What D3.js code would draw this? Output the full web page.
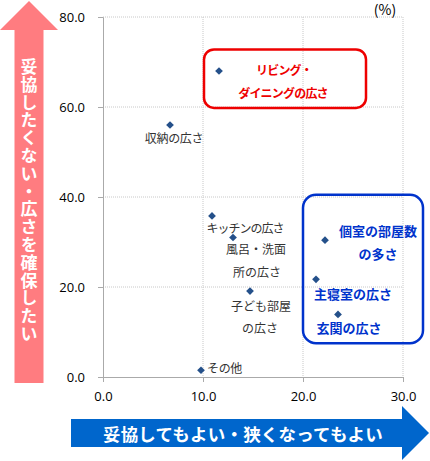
<!DOCTYPE html>
<html>
<head>
<meta charset="utf-8">
<script src="https://cdn.jsdelivr.net/npm/d3@7"></script>
<style>
  body { margin: 0; background: #fff; }
  text { font-family: "Noto Sans CJK JP", "Noto Sans", sans-serif; }
</style>
</head>
<body>
<script>
// items, x = ok to compromise (%), y = don't want to compromise (%)
const items = ["リビング・ダイニングの広さ", "収納の広さ", "キッチンの広さ", "風呂・洗面所の広さ",
               "子ども部屋の広さ", "その他", "個室の部屋数の多さ", "主寝室の広さ", "玄関の広さ"];
const xValues = [11.6, 6.7, 10.9, 13.0, 14.7, 9.8, 22.2, 21.3, 23.5];
const yValues = [68.0, 56.0, 35.8, 31.0, 19.1, 1.5, 30.4, 21.7, 13.9];
const xTicks = [0, 10, 20, 30];
const yTicks = [0, 20, 40, 60, 80];

const W = 430, H = 461;
const margin = {left: 103, right: 27, top: 17, bottom: 84};
const width = W - margin.left - margin.right;
const height = H - margin.top - margin.bottom;

const svg = d3.select("body").append("svg")
  .attr("width", W)
  .attr("height", H);

const x = d3.scaleLinear().domain([0, 30]).range([0, width]);
const y = d3.scaleLinear().domain([0, 80]).range([height, 0]);

const g = svg.append("g")
  .attr("transform", "translate(" + margin.left + "," + margin.top + ")");

// grid
g.selectAll(".gx").data(xTicks.slice(1)).enter().append("line")
  .attr("x1", d => x(d)).attr("x2", d => x(d))
  .attr("y1", 0).attr("y2", height)
  .attr("stroke", "#c8c8c8").attr("stroke-dasharray", "1,1");
g.selectAll(".gy").data(yTicks.slice(1)).enter().append("line")
  .attr("x1", 0).attr("x2", width)
  .attr("y1", d => y(d)).attr("y2", d => y(d))
  .attr("stroke", "#c8c8c8").attr("stroke-dasharray", "1,1");

// axes
const xAxis = d3.axisBottom(x).tickValues(xTicks).tickFormat(d3.format(".1f")).tickSize(5).tickPadding(10);
const gx = g.append("g").attr("transform", "translate(0," + height + ")").call(xAxis);
const yAxis = d3.axisLeft(y).tickValues(yTicks).tickFormat(d3.format(".1f")).tickSize(5).tickPadding(13);
const gy = g.append("g").call(yAxis);
[gx, gy].forEach(a => {
  a.select(".domain").attr("stroke", "#aaa");
  a.selectAll(".tick line").attr("stroke", "#aaa");
  a.selectAll("text").attr("font-size", 13).attr("fill", "#000")
    .style("font-family", "'Open Sans', 'Noto Sans', sans-serif");
});

svg.append("text").attr("x", 385).attr("y", 9).attr("text-anchor", "middle")
  .attr("dominant-baseline", "central")
  .attr("font-size", 14).text("(%)");

// highlight boxes
g.append("rect").attr("x", x(10.1)).attr("y", y(72.8)).attr("width", x(16.2) - x(0)).attr("height", y(0) - y(13))
  .attr("rx", 10).attr("fill", "none").attr("stroke", "#ee0000").attr("stroke-width", 2.5);
g.append("rect").attr("x", x(20)).attr("y", y(40.5)).attr("width", x(12) - x(0)).attr("height", y(0) - y(33))
  .attr("rx", 13).attr("fill", "none").attr("stroke", "#0033cc").attr("stroke-width", 2.5);

// points
const pts = items.map((d, i) => ({name: d, x: xValues[i], y: yValues[i]}));
g.selectAll(".pt").data(pts).enter().append("path")
  .attr("d", d3.symbol(d3.symbolDiamond2, 38))
  .attr("transform", d => "translate(" + x(d.x) + "," + y(d.y) + ")")
  .attr("fill", "#24508a");

// labels: [item index, lines, dx, dy, color, bold, size, spacing]
const labels = [
  [0, ["リビング・", "ダイニングの広さ"], [65, 64], [-2, 21], "#ee0000", true, 12, -0.8],
  [1, ["収納の広さ"], [4], [12], "#333", false, 12, -0.3],
  [2, ["キッチンの広さ"], [33], [12], "#333", false, 12, -1],
  [3, ["風呂・洗面", "所の広さ"], [23, 24], [11, 34], "#333", false, 12, 0],
  [4, ["子ども部屋", "の広さ"], [11, 10], [14, 36], "#333", false, 12, 0],
  [5, ["その他"], [23.5], [-3], "#333", false, 12, -0.3],
  [6, ["個室の部屋数", "の多さ"], [53, 53], [-10, 13], "#0033cc", true, 13, 0],
  [7, ["主寝室の広さ"], [37], [14], "#0033cc", true, 13, 0],
  [8, ["玄関の広さ"], [11], [13], "#0033cc", true, 13, 0]
];
labels.forEach(l => {
  const p = pts[l[0]];
  l[1].forEach((t, j) => {
    g.append("text")
      .attr("x", x(p.x) + l[2][j]).attr("y", y(p.y) + l[3][j])
      .attr("text-anchor", "middle").attr("dominant-baseline", "central")
      .attr("font-size", l[6]).attr("fill", l[4]).attr("font-weight", l[5] ? "bold" : "normal")
      .attr("letter-spacing", l[7])
      .text(t);
  });
});

// left arrow (pink)
svg.append("path")
  .attr("d", "M14.5,383 L14.5,30 L0,30 L29,1 L58,30 L43.5,30 L43.5,383 Z")
  .attr("fill", "#ff7c80");
svg.append("text")
  .attr("x", 29).attr("y", 58)
  .style("writing-mode", "vertical-rl")
  .attr("text-anchor", "start")
  .attr("font-size", 17).attr("font-weight", "bold").attr("fill", "#fff")
  .attr("letter-spacing", 0.8)
  .text("妥協したくない・広さを確保したい");

// bottom arrow (blue)
svg.append("path")
  .attr("d", "M71,419 L402,419 L402,406 L429,433 L402,460 L402,447 L71,447 Z")
  .attr("fill", "#0066cc");
svg.append("text").attr("x", 243).attr("y", 433)
  .attr("text-anchor", "middle").attr("dominant-baseline", "central")
  .attr("font-size", 17.5).attr("font-weight", "bold").attr("fill", "#fff")
  .attr("letter-spacing", 0.2)
  .text("妥協してもよい・狭くなってもよい");
</script>
</body>
</html>
